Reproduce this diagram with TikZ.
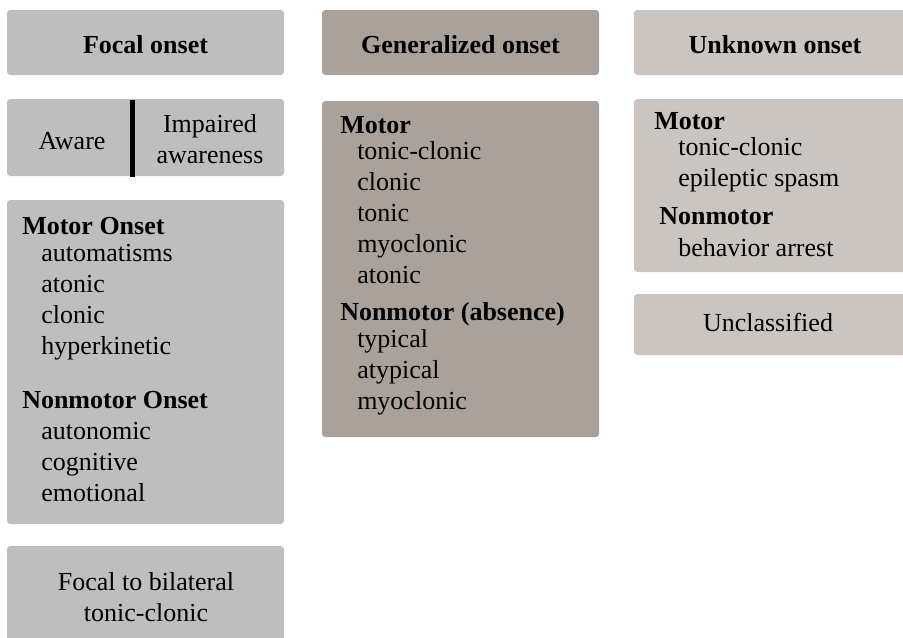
\documentclass[tikz,border=0pt]{standalone}
\usepackage{fontspec}
\setmainfont{Liberation Serif}
\newfontfamily\boxfont{Liberation Serif}
\definecolor{focalgray}{RGB}{190,190,190}
\definecolor{gengray}{RGB}{170,161,154}
\definecolor{unkgray}{RGB}{202,197,192}
\begin{document}
\begin{tikzpicture}[x=0.75pt,y=-0.75pt,
  txt/.style={inner sep=0pt,font=\boxfont\fontsize{19.5}{23.25}\selectfont},
  head/.style={inner sep=0pt,font=\boxfont\fontsize{19.5}{23.25}\selectfont\bfseries},
  item/.style={txt,anchor=base west},
  focalbox/.style={fill=focalgray,rounded corners=2.5pt},
  genbox/.style={fill=gengray,rounded corners=2.5pt},
  unkbox/.style={fill=unkgray,rounded corners=2.5pt}]
  \useasboundingbox (0,0) rectangle (903,637);
  \clip (0,0) rectangle (903,637);
  % focal onset
  \fill[focalbox] (7,10) rectangle (284,75);
  \node[head,anchor=base] (focal) at (145.5,53) {Focal onset};
  \fill[focalbox] (7,99) rectangle (284,176);
  \node[txt,anchor=base] (aware) at (72,149) {Aware};
  \node[txt,anchor=base] (impaired) at (210,132) {Impaired};
  \node[txt,anchor=base] (awareness) at (210,163) {awareness};
  \draw[line width=3.75pt] (132.5,100) -- (132.5,177);
  \fill[focalbox] (7,200) rectangle (284,524);
  \node[head,anchor=base west] (fmotor) at (22,234) {Motor Onset};
  \foreach \t [count=\i from 0] in {automatisms,atonic,clonic,hyperkinetic}
    \node[item] (fm\i) at (41,261+31*\i) {\t};
  \node[head,anchor=base west] (fnonmotor) at (22,408) {Nonmotor Onset};
  \foreach \t [count=\i from 0] in {autonomic,cognitive,emotional}
    \node[item] (fn\i) at (41,439+31*\i) {\t};
  \fill[focalbox] (7,546) rectangle (284,660);
  \node[txt,anchor=base] (bilat) at (146,590) {Focal to bilateral};
  \node[txt,anchor=base] (bilattc) at (146,621) {tonic-clonic};
  % generalized onset
  \fill[genbox] (322,10) rectangle (599,75);
  \node[head,anchor=base] (gen) at (460.5,53) {Generalized onset};
  \fill[genbox] (322,101) rectangle (599,437);
  \node[head,anchor=base west] (gmotor) at (340,133) {Motor};
  \foreach \t [count=\i from 0] in {tonic-clonic,clonic,tonic,myoclonic,atonic}
    \node[item] (gm\i) at (357,159+31*\i) {\t};
  \node[head,anchor=base west] (gnonmotor) at (340,320) {Nonmotor (absence)};
  \foreach \t [count=\i from 0] in {typical,atypical,myoclonic}
    \node[item] (gn\i) at (357,347+31*\i) {\t};
  % unknown onset
  \fill[unkbox] (634,10) rectangle (915,75);
  \node[head,anchor=base] (unk) at (775,53) {Unknown onset};
  \fill[unkbox] (634,99) rectangle (915,272);
  \node[head,anchor=base west] (umotor) at (654,129) {Motor};
  \node[item] (um0) at (678,155) {tonic-clonic};
  \node[item] (um1) at (678,186) {epileptic spasm};
  \node[head,anchor=base west] (unonmotor) at (659,224) {Nonmotor};
  \node[item] (un0) at (678,256) {behavior arrest};
  \fill[unkbox] (634,294) rectangle (915,355);
  \node[txt,anchor=base] (unclass) at (768,331) {Unclassified};
\end{tikzpicture}
\end{document}
